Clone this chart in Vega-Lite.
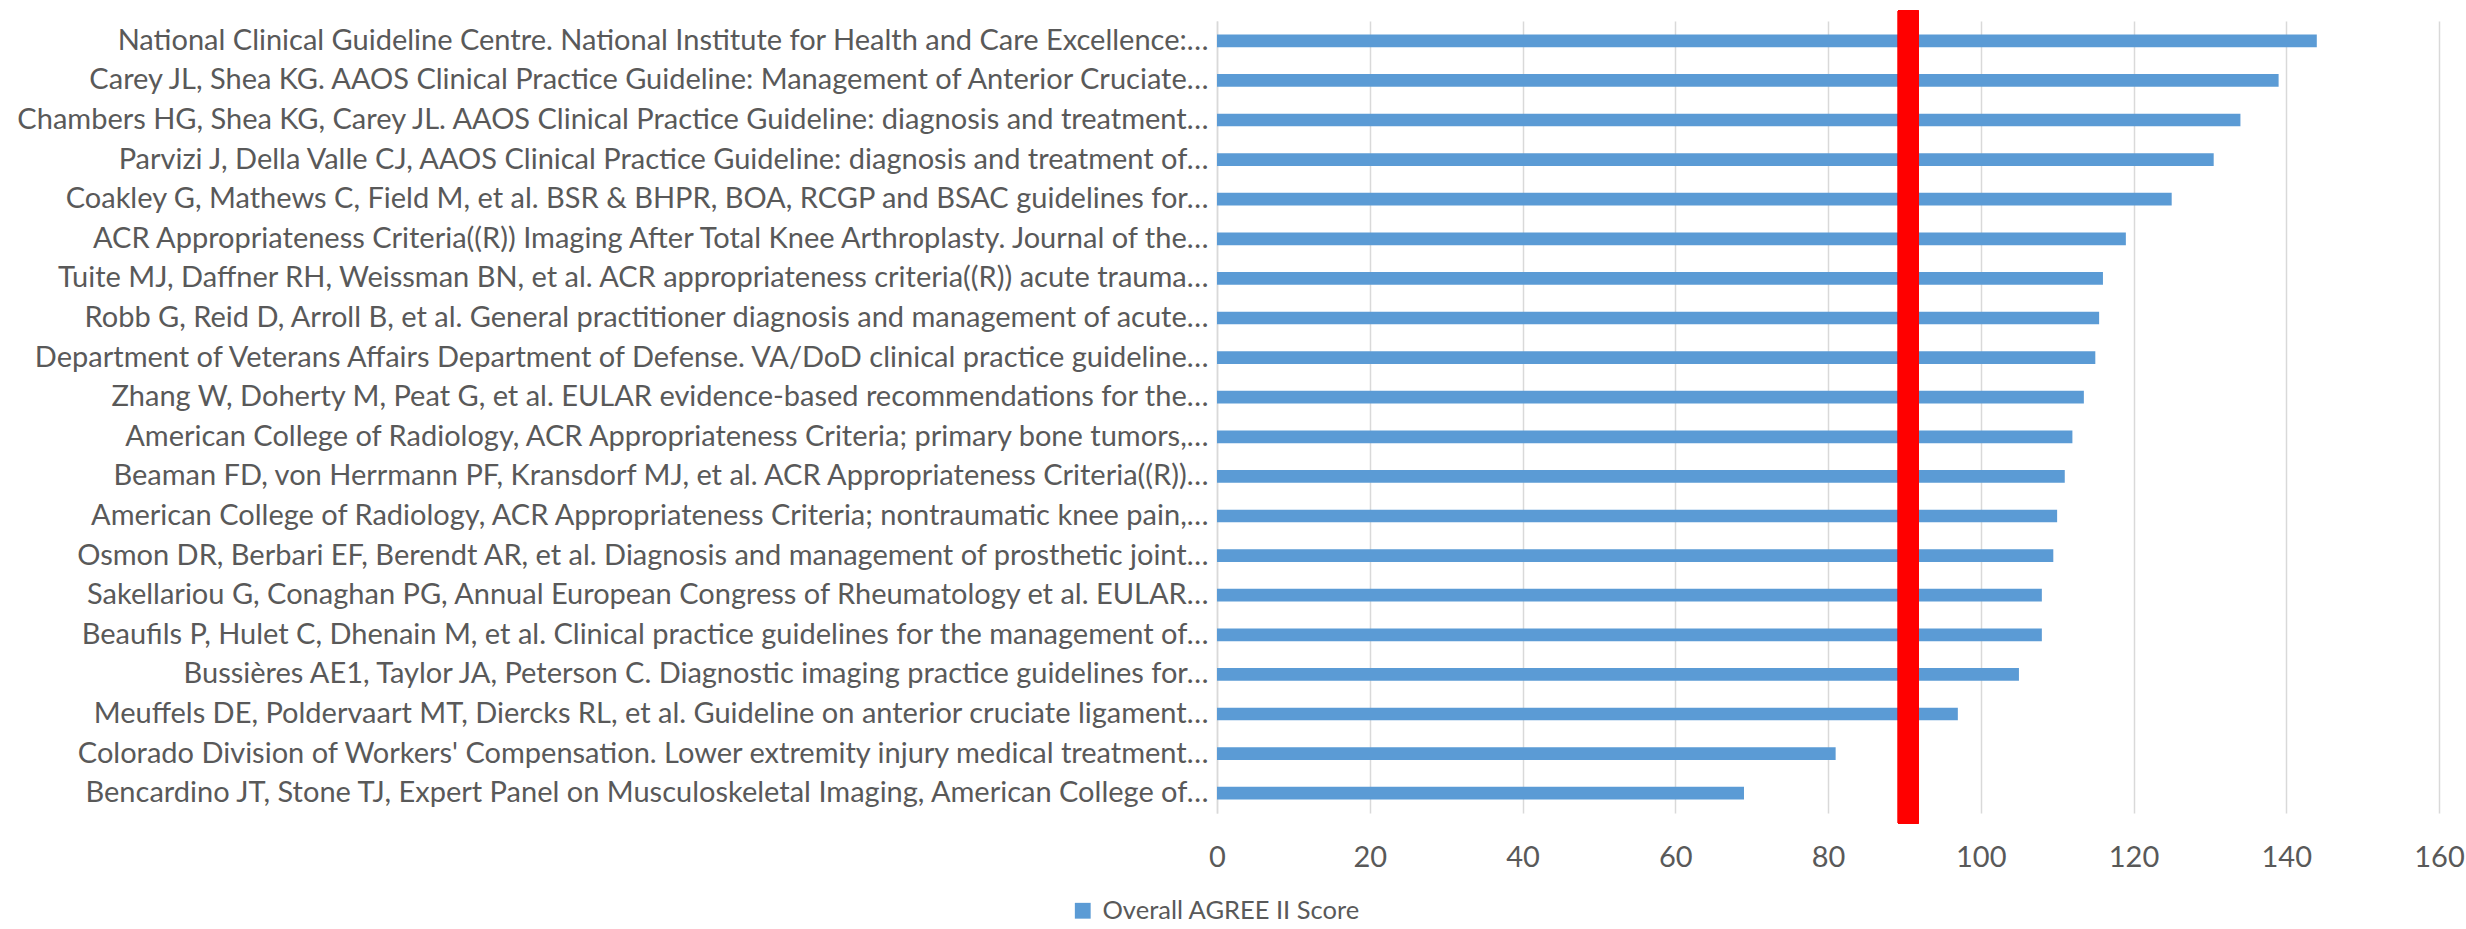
{
  "$schema": "https://vega.github.io/schema/vega-lite/v6.json",
  "autosize": {"type": "none"},
  "padding": {"left": 1217, "top": 21, "right": 27, "bottom": 116},
  "width": 1222,
  "height": 792,
  "background": "white",
  "config": {
    "view": {"stroke": null},
    "font": "Lato",
    "axis": {"labelFont": "Lato", "labelColor": "#595959"},
    "legend": {"labelFont": "Lato", "labelColor": "#595959"}
  },
  "data": {
    "values": [
      {"guideline": "National Clinical Guideline Centre. National Institute for Health and Care Excellence:…", "score": 144},
      {"guideline": "Carey JL, Shea KG. AAOS Clinical Practice Guideline: Management of Anterior Cruciate…", "score": 139},
      {"guideline": "Chambers HG, Shea KG, Carey JL. AAOS Clinical Practice Guideline: diagnosis and treatment…", "score": 134},
      {"guideline": "Parvizi J, Della Valle CJ,  AAOS Clinical Practice Guideline: diagnosis and treatment of…", "score": 130.5},
      {"guideline": "Coakley G, Mathews C, Field M, et al. BSR & BHPR, BOA, RCGP and BSAC guidelines for…", "score": 125},
      {"guideline": "ACR Appropriateness Criteria((R)) Imaging After Total Knee Arthroplasty. Journal of the…", "score": 119},
      {"guideline": "Tuite MJ, Daffner RH, Weissman BN, et al. ACR appropriateness criteria((R)) acute trauma…", "score": 116},
      {"guideline": "Robb G, Reid D, Arroll B, et al. General practitioner diagnosis and management of acute…", "score": 115.5},
      {"guideline": "Department of Veterans Affairs Department of Defense. VA/DoD clinical practice guideline…", "score": 115},
      {"guideline": "Zhang W, Doherty M, Peat G, et al. EULAR evidence-based recommendations for the…", "score": 113.5},
      {"guideline": "American College of Radiology,  ACR Appropriateness Criteria; primary bone tumors,…", "score": 112},
      {"guideline": "Beaman FD, von Herrmann PF, Kransdorf MJ, et al. ACR Appropriateness Criteria((R))…", "score": 111},
      {"guideline": "American College of Radiology,  ACR Appropriateness Criteria; nontraumatic knee pain,…", "score": 110},
      {"guideline": "Osmon DR, Berbari EF, Berendt AR, et al. Diagnosis and management of prosthetic joint…", "score": 109.5},
      {"guideline": "Sakellariou G, Conaghan PG, Annual European Congress of Rheumatology et al.  EULAR…", "score": 108},
      {"guideline": "Beaufils P, Hulet C, Dhenain M, et al. Clinical practice guidelines for the management of…", "score": 108},
      {"guideline": "Bussières AE1, Taylor JA, Peterson C.  Diagnostic imaging practice guidelines for…", "score": 105},
      {"guideline": "Meuffels DE, Poldervaart MT, Diercks RL, et al. Guideline on anterior cruciate ligament…", "score": 97},
      {"guideline": "Colorado Division of Workers' Compensation. Lower extremity injury medical treatment…", "score": 81},
      {"guideline": "Bencardino JT, Stone TJ, Expert Panel on Musculoskeletal Imaging, American College of…", "score": 69}
    ]
  },
  "layer": [
    {
      "mark": {"type": "bar"},
      "encoding": {
        "y": {
          "field": "guideline",
          "type": "nominal",
          "sort": null,
          "scale": {"paddingInner": 0.68, "paddingOuter": 0.34},
          "axis": {
            "title": null,
            "ticks": false,
            "tickSize": 0,
            "grid": false,
            "domain": true,
            "domainColor": "#D9D9D9",
            "domainWidth": 1.5,
            "labelFontSize": 29,
            "labelPadding": 9,
            "labelLimit": 1300,
            "labelBaseline": "middle"
          }
        },
        "x": {
          "field": "score",
          "type": "quantitative",
          "scale": {"domain": [0, 160], "nice": false},
          "axis": {
            "title": null,
            "values": [0, 20, 40, 60, 80, 100, 120, 140, 160],
            "grid": true,
            "gridColor": "#D9D9D9",
            "gridWidth": 1.5,
            "domain": false,
            "ticks": false,
            "tickSize": 0,
            "labelFontSize": 29,
            "labelPadding": 44,
            "labelBaseline": "middle",
            "labelFlush": false
          }
        },
        "color": {
          "datum": "Overall AGREE II Score",
          "type": "nominal",
          "scale": {"range": ["#5B9BD5"]},
          "legend": {
            "title": null,
            "orient": "none",
            "legendX": -147,
            "legendY": 877,
            "symbolType": "square",
            "symbolSize": 250,
            "symbolStrokeWidth": 0,
            "labelFontSize": 25.5,
            "labelOffset": 7,
            "labelLimit": 800,
            "padding": 0
          }
        }
      }
    },
    {
      "mark": {"type": "rule", "color": "#FF0000", "strokeWidth": 20.5, "strokeCap": "square"},
      "encoding": {
        "x": {"datum": 90.5, "type": "quantitative"}
      }
    }
  ]
}
